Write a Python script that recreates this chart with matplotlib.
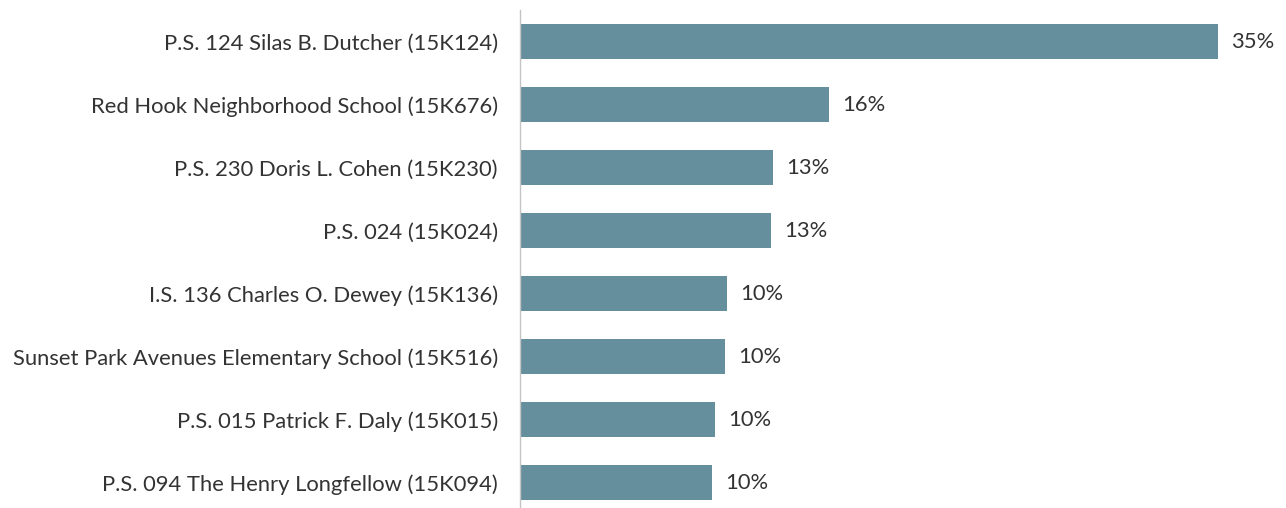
import matplotlib.pyplot as plt
import matplotlib as mpl

mpl.rcParams['font.family'] = 'Lato'

schools = [
    'P.S. 124 Silas B. Dutcher (15K124)',
    'Red Hook Neighborhood School (15K676)',
    'P.S. 230 Doris L. Cohen (15K230)',
    'P.S. 024 (15K024)',
    'I.S. 136 Charles O. Dewey (15K136)',
    'Sunset Park Avenues Elementary School (15K516)',
    'P.S. 015 Patrick F. Daly (15K015)',
    'P.S. 094 The Henry Longfellow (15K094)',
]
pct = [35.0, 15.5, 12.7, 12.6, 10.4, 10.3, 9.8, 9.65]
labels = ['35%', '16%', '13%', '13%', '10%', '10%', '10%', '10%']

W, H = 1286, 508
fig = plt.figure(figsize=(W / 100, H / 100), dpi=100)
ax = fig.add_axes([520 / W, 0, 1 - 520 / W, 1 - 10 / H])

ypos = range(len(schools))
ax.barh(ypos, pct, height=0.556, color='#658f9d')
ax.set_xlim(0, 35 * (W - 520) / 698)
ax.set_ylim(7.40, -0.5)

for y, v, t in zip(ypos, pct, labels):
    ax.text(v + 0.65, y, t, va='center', ha='left', fontsize=15.8, color='#333333')

ax.set_yticks(list(ypos))
ax.set_yticklabels(schools, fontsize=15.8, color='#333333')
ax.tick_params(axis='y', length=0, pad=16)
ax.set_xticks([])
for s in ['top', 'right', 'bottom']:
    ax.spines[s].set_visible(False)
ax.spines['left'].set_color('#c4c4c4')
ax.spines['left'].set_linewidth(1.0)
ax.spines['left'].set_linestyle((0, (2, 1)))

fig.savefig('out.png', dpi=100)
